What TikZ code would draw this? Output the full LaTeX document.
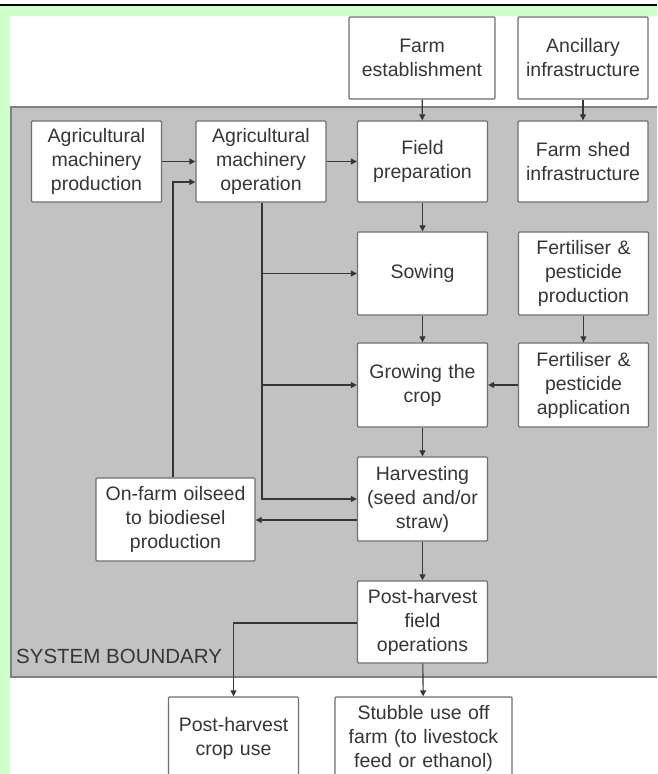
\documentclass[tikz,border=0pt]{standalone}
\usepackage{fontspec}
\setmainfont{Liberation Sans}
\usetikzlibrary{arrows.meta}
\definecolor{pagegreen}{HTML}{CCFFCC}
\definecolor{boundgray}{HTML}{C2C2C2}
\definecolor{boundedge}{HTML}{808080}
\definecolor{boxedge}{HTML}{707070}
\definecolor{inkgray}{HTML}{363636}
\begin{document}
\begin{tikzpicture}[x=1pt,y=-1pt,
  stage/.style={draw=boxedge, line width=1.3pt, fill=white, rounded corners=1pt,
    align=center, text=inkgray, font=\fontsize{19.5}{24}\selectfont,
    inner sep=0pt, text width=#1},
  stage/.default=130pt,
  arr/.style={draw=inkgray, line width=1.1pt, -{Triangle[length=6pt,width=6pt]}},
  link/.style={draw=inkgray, line width=1.1pt}]
  % page frame
  \useasboundingbox (0,0) rectangle (657,774);
  \fill[white] (0,0) rectangle (657,774);
  \fill[pagegreen] (0,6) rectangle (657,774);
  \fill[white] (10,16) rectangle (657,774);
  \draw[black, line width=2pt] (0,5) -- (657,5);
  % system boundary
  \fill[boundgray] (10,106) rectangle (657,678);
  \draw[boundedge, line width=1.5pt] (657,107) -- (11,107) -- (11,677) -- (657,677);
  \node[anchor=base west, text=inkgray, font=\fontsize{20.5}{24}\selectfont, inner sep=0pt]
    (sb) at (16,663) {SYSTEM BOUNDARY};
  % stages
  \node[stage=146pt, minimum height=82pt] (fe)   at (422,58)    {Farm\\establishment};
  \node[stage=130pt, minimum height=82pt] (anc)  at (583,58)    {Ancillary\\infrastructure};
  \node[stage, minimum height=81pt] (amp)  at (96.5,161.5) {Agricultural\\machinery\\production};
  \node[stage, minimum height=81pt] (amo)  at (261,161.5)  {Agricultural\\machinery\\operation};
  \node[stage, minimum height=81pt] (fp)   at (422.5,161.5){Field\\preparation};
  \node[stage, minimum height=81pt] (shed) at (583,161.5)  {Farm shed\\infrastructure};
  \node[stage, minimum height=83pt] (sow)  at (422.5,273.5){Sowing};
  \node[stage, minimum height=83pt] (fpp)  at (583.5,273.5){Fertiliser \&\\pesticide\\production};
  \node[stage, minimum height=84pt] (grow) at (422.5,385)  {Growing the\\crop};
  \node[stage, minimum height=84pt] (fpa)  at (583.5,385)  {Fertiliser \&\\pesticide\\application};
  \node[stage, minimum height=84pt] (harv) at (422.5,499)  {Harvesting\\(seed and/or\\straw)};
  \node[stage=159pt, minimum height=83pt] (oil) at (175.5,519.5) {On-farm oilseed\\to biodiesel\\production};
  \node[stage, minimum height=82pt] (post) at (422.5,622)  {Post-harvest\\field\\operations};
  \node[stage, minimum height=82pt] (pcu)  at (233.5,738)  {Post-harvest\\crop use};
  \node[stage=177pt, minimum height=82pt] (stub) at (423.5,738) {Stubble use off\\farm (to livestock\\feed or ethanol)};
  % main chain
  \draw[arr] (fe) -- (fp);
  \draw[arr] (anc) -- (shed);
  \draw[arr] (fp) -- (sow);
  \draw[arr] (sow) -- (grow);
  \draw[arr] (grow) -- (harv);
  \draw[arr] (harv) -- (post);
  \draw[arr] (post) -- (stub);
  \draw[arr] (fpp) -- (fpa);
  \draw[arr] (fpa) -- (grow);
  % machinery
  \draw[arr] (amp) -- (amo);
  \draw[arr] (amo) -- (fp);
  \draw[arr] ([xshift=1pt]amo.south) |- (sow.west);
  \draw[arr] ([xshift=1pt]amo.south) |- (grow.west);
  \draw[arr] ([xshift=1pt]amo.south) |- (harv.west);
  % biodiesel loop
  \draw[arr] ([yshift=-21pt]harv.west) -- ([yshift=-21pt]harv.west -| oil.east);
  \draw[arr] ([xshift=-2.5pt]oil.north) |- ([yshift=-20.5pt]amo.west);
  % post-harvest crop
  \draw[arr] ([yshift=-1pt]post.west) -| (pcu.north);
\end{tikzpicture}
\end{document}
